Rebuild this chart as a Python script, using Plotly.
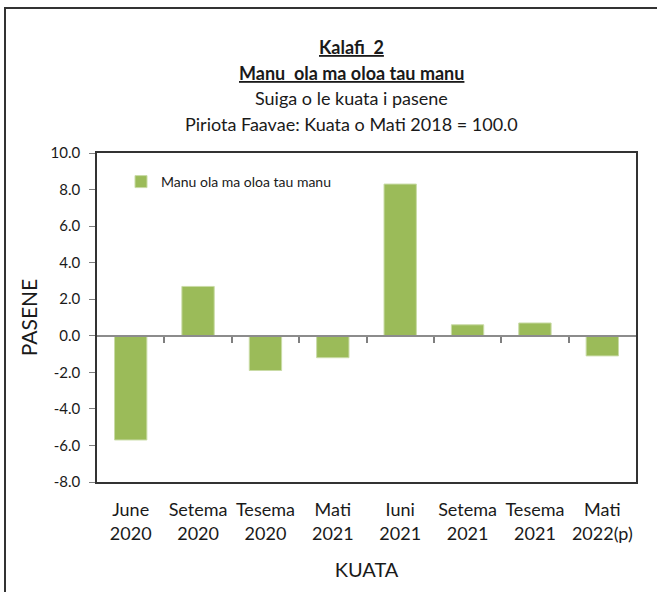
import plotly.graph_objects as go

quarters = ["June<br>2020", "Setema<br>2020", "Tesema<br>2020", "Mati<br>2021",
            "Iuni<br>2021", "Setema<br>2021", "Tesema<br>2021", "Mati<br>2022(p)"]
values = [-5.7, 2.7, -1.9, -1.2, 8.3, 0.6, 0.7, -1.1]
series_name = "Manu ola ma oloa tau manu"
y_ticks = [-8, -6, -4, -2, 0, 2, 4, 6, 8, 10]
y_tick_text = [f"{v:.1f}" for v in y_ticks]

FONT = "Lato, 'Open Sans', sans-serif"
GREEN = "#9BBB59"

L, R, T, B = 97, 21, 153, 110
W, H = 657, 592
pw, ph = W - L - R, H - T - B

def px(x):
    return (x - L) / pw

def py(y):
    return (H - B - y) / ph

fig = go.Figure()
fig.add_trace(go.Bar(
    x=list(range(len(quarters))), y=values, name=series_name,
    marker=dict(color=GREEN, line=dict(color="#c9dba6", width=1)),
    width=0.48, showlegend=True,
))

fig.update_layout(
    width=W, height=H,
    margin=dict(l=L, r=R, t=T, b=B, pad=0),
    paper_bgcolor="white", plot_bgcolor="white",
    font=dict(family=FONT, color="#1a1a1a"),
    showlegend=True,
    legend=dict(x=px(121), y=py(182), xanchor="left", yanchor="middle",
                bgcolor="rgba(0,0,0,0)", font=dict(size=14, family=FONT),
                itemwidth=30),
    xaxis=dict(
        range=[-0.5, len(quarters) - 0.5],
        tickmode="array", tickvals=list(range(len(quarters))), ticktext=quarters,
        showline=True, linecolor="#333333", linewidth=1.5, mirror=True,
        ticks="", showgrid=False, zeroline=False,
        tickfont=dict(size=18, family=FONT),
        ticklabelstandoff=11,
        title=dict(text="KUATA", font=dict(size=20, family=FONT), standoff=20),
    ),
    xaxis2=dict(
        overlaying="x", anchor="free", position=8 / 18,
        range=[-0.5, len(quarters) - 0.5],
        tickmode="array", tickvals=[i + 0.5 for i in range(len(quarters) - 1)],
        showticklabels=False, ticks="outside", ticklen=6, tickcolor="#7f7f7f",
        tickwidth=1.5,
        showline=True, linecolor="#8c8c8c", linewidth=1.5,
        showgrid=False, zeroline=False,
    ),
    yaxis=dict(
        range=[-8, 10], tickmode="array", tickvals=y_ticks, ticktext=y_tick_text,
        showline=True, linecolor="#333333", linewidth=1.5, mirror=True,
        ticks="outside", ticklen=6, tickcolor="#7f7f7f",
        showgrid=False, zeroline=False,
        tickfont=dict(size=15, family=FONT),
        ticklabelstandoff=6,
        title=dict(text="PASENE", font=dict(size=21, family=FONT), standoff=7),
    ),
)

fig.add_trace(go.Scatter(x=[-0.5, len(quarters) - 0.5], y=[0, 0], xaxis="x2",
                         mode="lines", line=dict(width=0), showlegend=False,
                         hoverinfo="skip"))

titles = [
    ("<b><span style='text-decoration:underline'>Kalafi  2</span></b>", 47),
    ("<b><span style='text-decoration:underline'>Manu  ola ma oloa tau manu</span></b>", 73),
    ("Suiga o le kuata i pasene", 98),
    ("Piriota Faavae: Kuata o Mati 2018 = 100.0", 124),
]
for text, y in titles:
    fig.add_annotation(text=text, xref="paper", yref="paper",
                       x=px(351), y=py(y), xanchor="center", yanchor="middle",
                       showarrow=False, font=dict(size=18, family=FONT, color="#1a1a1a"))

fig.add_shape(type="rect", xref="paper", yref="paper",
              x0=px(5), y0=py(610), x1=px(670), y1=py(8),
              line=dict(color="#333333", width=2), fillcolor="rgba(0,0,0,0)",
              layer="below")

fig.write_html("out.html", config={"displayModeBar": False},
               post_script="document.body.style.margin='0';document.body.style.overflow='hidden';")
